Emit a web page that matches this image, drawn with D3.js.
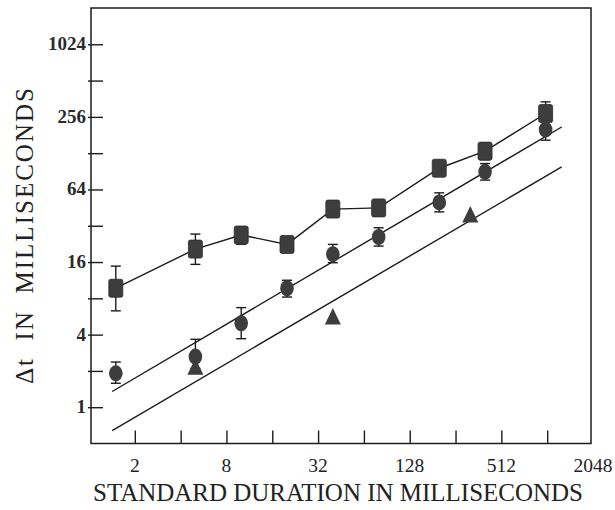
<!DOCTYPE html>
<html>
<head>
<meta charset="utf-8">
<title>Delta t vs standard duration</title>
<script src="https://cdnjs.cloudflare.com/ajax/libs/d3/7.8.5/d3.min.js"></script>
<style>
  body { margin: 0; background: #fff; }
  text { font-family: 'Liberation Serif', 'DejaVu Serif', serif; }
</style>
</head>
<body>
<div id="chart"></div>
<script>
// ******* Data *******
const durations = [1.5, 5, 10, 20, 40, 80, 200, 400, 1000];

const squareMean = [9.7, 20.5, 26.8, 22.4, 44, 45, 96, 133, 273];
const squareLo   = [6.3, 15.3, 22.5, null, null, null, null, 113, 218];
const squareHi   = [14.8, 27.3, 30.6, null, null, null, null, 156, 341];

const circleMean = [1.91, 2.63, 4.97, 9.7, 18.6, 25.8, 50, 89.6, 201];
const circleLo   = [1.58, 2.1, 3.7, 8.2, 15.8, 21.7, 41.7, 76.5, 164];
const circleHi   = [2.37, 3.66, 6.7, 11.3, 22.4, 30.8, 60, 105, 246];

const triangleX = [5, 40, 320];
const triangleY = [2.1, 5.5, 38.5];

// straight fitted lines (end points, in data units)
const fitX = [1.42, 1275];
const circleFitY = [1.35, 211];
const triangleFitY = [0.64, 98.5];

const xTicks = [2, 4, 8, 16, 32, 64, 128, 256, 512, 1024];
const xLabels = [2, 8, 32, 128, 512, 2048];
const yTicks = [1, 2, 4, 8, 16, 32, 64, 128, 256, 512, 1024];
const yLabels = [1, 4, 16, 64, 256, 1024];

// ******* Constants *******
const width = 615,
      height = 510,
      ink = "#1c1c1c",
      markFill = "#3d3d3d";

// ******* Scales *******
const x = d3.scaleLog().base(2).domain([1, 2048]).range([89, 593]);
const y = d3.scaleLog().base(2).domain([0.5, 2048]).range([443.5, 8]);

// ******* Create SVG *******
const svg = d3.select("#chart").append("svg")
    .attr("width", width)
    .attr("height", height);

// frame
svg.append("rect")
    .attr("x", x(1) + 2)
    .attr("y", y(2048))
    .attr("width", 591 - x(1) - 2)
    .attr("height", y(0.5) - y(2048))
    .attr("fill", "none")
    .attr("stroke", ink)
    .attr("stroke-width", 1.5);

// ******* Axes *******
const xAxis = svg.append("g")
    .attr("transform", `translate(0, ${y(0.5)})`)
    .call(d3.axisBottom(x).tickValues(xTicks).tickSize(-13).tickFormat(""));
xAxis.select(".domain").remove();
xAxis.selectAll(".tick line").attr("stroke", ink).attr("stroke-width", 1.4);

svg.selectAll(".xlab")
  .data(xLabels)
  .enter().append("text")
    .attr("class", "xlab")
    .attr("x", d => x(d))
    .attr("y", 472)
    .attr("text-anchor", "middle")
    .attr("font-size", 19.5)
    .attr("fill", "#222")
    .text(d => d);

const yAxis = svg.append("g")
    .attr("transform", `translate(${x(1) + 2}, 0)`)
    .call(d3.axisRight(y).tickValues(yTicks).tickSize(12).tickFormat(""));
yAxis.select(".domain").remove();
yAxis.selectAll(".tick line").attr("stroke", ink).attr("stroke-width", 1.4).attr("x1", -3);

svg.selectAll(".ylab")
  .data(yLabels)
  .enter().append("text")
    .attr("class", "ylab")
    .attr("x", 86)
    .attr("y", d => y(d) + 6)
    .attr("text-anchor", "end")
    .attr("font-size", 19)
    .attr("font-weight", "bold")
    .attr("fill", "#2a2a2a")
    .text(d => d);

// axis titles
svg.append("text")
    .attr("x", 338)
    .attr("y", 501)
    .attr("text-anchor", "middle")
    .attr("font-size", 25)
    .attr("fill", "#222")
    .attr("textLength", 490)
    .attr("lengthAdjust", "spacingAndGlyphs")
    .text("STANDARD DURATION IN MILLISECONDS");

svg.append("text")
    .attr("transform", "translate(33, 236) rotate(-90)")
    .attr("text-anchor", "middle")
    .attr("font-size", 25)
    .attr("fill", "#222")
    .style("white-space", "pre")
    .attr("textLength", 296)
    .attr("lengthAdjust", "spacing")
    .text("\u0394t  IN  MILLISECONDS");

// ******* Lines *******
const line = d3.line().x(d => x(d[0])).y(d => y(d[1]));

svg.append("path")
    .attr("d", line(d3.zip(durations, squareMean)))
    .attr("fill", "none")
    .attr("stroke", ink)
    .attr("stroke-width", 1.4);

svg.append("path")
    .attr("d", line(d3.zip(fitX, circleFitY)))
    .attr("fill", "none")
    .attr("stroke", ink)
    .attr("stroke-width", 1.4);

svg.append("path")
    .attr("d", line(d3.zip(fitX, triangleFitY)))
    .attr("fill", "none")
    .attr("stroke", ink)
    .attr("stroke-width", 1.4);

// ******* Error bars *******
function errorBars(xs, lo, hi) {
  const rows = xs.map((d, i) => ({x: d, lo: lo[i], hi: hi[i]})).filter(d => d.lo != null);
  const g = svg.append("g").attr("stroke", ink).attr("stroke-width", 1.4);
  rows.forEach(d => {
    g.append("line").attr("x1", x(d.x)).attr("x2", x(d.x)).attr("y1", y(d.lo)).attr("y2", y(d.hi));
    g.append("line").attr("x1", x(d.x) - 5).attr("x2", x(d.x) + 5).attr("y1", y(d.lo)).attr("y2", y(d.lo));
    g.append("line").attr("x1", x(d.x) - 5).attr("x2", x(d.x) + 5).attr("y1", y(d.hi)).attr("y2", y(d.hi));
  });
}
errorBars(durations, squareLo, squareHi);
errorBars(durations, circleLo, circleHi);

// ******* Markers *******
svg.selectAll(".sq")
  .data(d3.zip(durations, squareMean))
  .enter().append("rect")
    .attr("class", "sq")
    .attr("x", d => x(d[0]) - 7)
    .attr("y", d => y(d[1]) - 9)
    .attr("width", 14)
    .attr("height", 18)
    .attr("rx", 2)
    .attr("fill", markFill)
    .attr("stroke", "#2a2a2a")
    .attr("stroke-width", 0.8);

svg.selectAll(".ci")
  .data(d3.zip(durations, circleMean))
  .enter().append("ellipse")
    .attr("class", "ci")
    .attr("cx", d => x(d[0]))
    .attr("cy", d => y(d[1]))
    .attr("rx", 6.8)
    .attr("ry", 8)
    .attr("fill", markFill);

svg.selectAll(".tri")
  .data(d3.zip(triangleX, triangleY))
  .enter().append("path")
    .attr("class", "tri")
    .attr("d", d => {
      const cx = x(d[0]), cy = y(d[1]);
      return `M${cx},${cy - 10}L${cx + 8},${cy + 6.5}L${cx - 8},${cy + 6.5}Z`;
    })
    .attr("fill", markFill);
</script>
</body>
</html>
